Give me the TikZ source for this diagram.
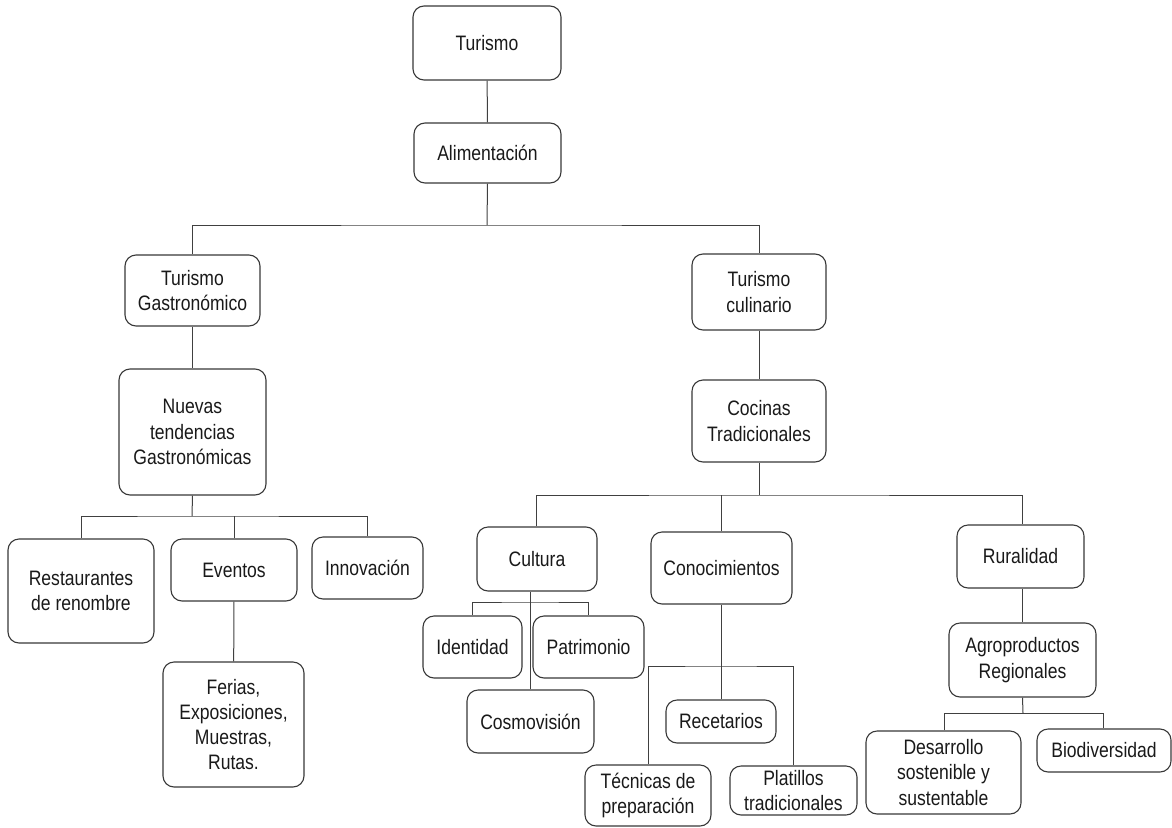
\documentclass[tikz,border=0pt]{standalone}
\usepackage{fontspec}
\setmainfont{Liberation Sans}[FakeStretch=0.84]
\begin{document}
\begin{tikzpicture}[x=1pt,y=-1pt,
  box/.style={draw=black!78, line width=1.1pt, rounded corners=11pt, align=center,
    inner sep=0pt, font=\fontsize{20.9}{25.3}\selectfont, text=black!90},
  con/.style={draw=black!75, line width=1pt}]
\useasboundingbox (0,0) rectangle (1172,827);
% nodes
\node[box, minimum width=148pt, minimum height=74pt] (tur) at (487,43) {Turismo};
\node[box, minimum width=147pt, minimum height=60pt] (alim) at (487.5,153) {Alimentación};
\node[box, minimum width=135pt, minimum height=71pt] (tg) at (192.5,290.5) {Turismo\\Gastronómico};
\node[box, minimum width=134pt, minimum height=76pt] (tc) at (759,292) {Turismo\\culinario};
\node[box, minimum width=147pt, minimum height=126pt] (nuev) at (192.5,432) {Nuevas\\tendencias\\Gastronómicas};
\node[box, minimum width=146pt, minimum height=104pt] (rest) at (81,591) {Restaurantes\\de renombre};
\node[box, minimum width=126pt, minimum height=62pt] (even) at (234,570) {Eventos};
\node[box, minimum width=111pt, minimum height=62pt] (inno) at (367.5,568) {Innovación};
\node[box, minimum width=141pt, minimum height=125pt] (feri) at (233.5,724.5) {Ferias,\\Exposiciones,\\Muestras,\\Rutas.};
\node[box, minimum width=134pt, minimum height=82pt] (coci) at (759,421) {Cocinas\\Tradicionales};
\node[box, minimum width=120pt, minimum height=64pt] (cult) at (537,559) {Cultura};
\node[box, minimum width=141pt, minimum height=72pt] (cono) at (721.5,568) {Conocimientos};
\node[box, minimum width=127pt, minimum height=63pt] (rura) at (1020.5,556.5) {Ruralidad};
\node[box, minimum width=99pt, minimum height=62pt] (iden) at (472.5,647) {Identidad};
\node[box, minimum width=111pt, minimum height=62pt] (patr) at (588.5,647) {Patrimonio};
\node[box, minimum width=127pt, minimum height=63pt] (cosm) at (530.5,721.5) {Cosmovisión};
\node[box, minimum width=110pt, minimum height=43pt] (rece) at (721,721.5) {Recetarios};
\node[box, minimum width=126pt, minimum height=61pt] (tecn) at (648,795.5) {Técnicas de\\preparación};
\node[box, minimum width=127pt, minimum height=49pt] (plat) at (793.5,790.5) {Platillos\\tradicionales};
\node[box, minimum width=147pt, minimum height=74pt] (agro) at (1022.5,660) {Agroproductos\\Regionales};
\node[box, minimum width=155pt, minimum height=83pt] (desa) at (943.5,772.5) {Desarrollo\\sostenible y\\sustentable};
\node[box, minimum width=134pt, minimum height=43pt] (biod) at (1104,750.5) {Biodiversidad};
% junction coordinates
\coordinate (j1) at (487,225);
\coordinate (j2) at (192,516);
\coordinate (j3) at (759,495);
\coordinate (j4) at (530,602);
\coordinate (j5) at (721,666);
\coordinate (j6) at (1023,713);
% connectors
\draw[con] (tur) -- (alim);
\draw[con] (alim.south) -- (j1);
\draw[con] (tg.north) |- (j1) -| (tc.north);
\draw[con] (tg) -- (nuev);
\draw[con] (tc) -- (coci);
\draw[con] (nuev.south) -- (j2);
\draw[con] (rest.north) |- (j2) -| (inno.north);
\draw[con] (even.north) -- (even.north |- j2);
\draw[con] (even) -- (feri);
\draw[con] (coci.south) -- (j3);
\draw[con] ([xshift=-1pt]cult.north) |- (j3) -| ([xshift=1.5pt]rura.north);
\draw[con] ([xshift=-0.5pt]cono.north) -- ([xshift=-0.5pt]cono.north |- j3);
\draw[con] (cosm.north) -- (cosm.north |- cult.south);
\draw[con] (iden.north) |- (j4) -| ([xshift=-0.5pt]patr.north);
\draw[con] (rece.north) -- (rece.north |- cono.south);
\draw[con] (tecn.north) |- (j5) -| ([xshift=-0.5pt]plat.north);
\draw[con] (agro.north) -- (agro.north |- rura.south);
\draw[con] (agro.south) -- (j6);
\draw[con] ([xshift=0.5pt]desa.north) |- (j6) -| ([xshift=-1pt]biod.north);
\end{tikzpicture}
\end{document}
